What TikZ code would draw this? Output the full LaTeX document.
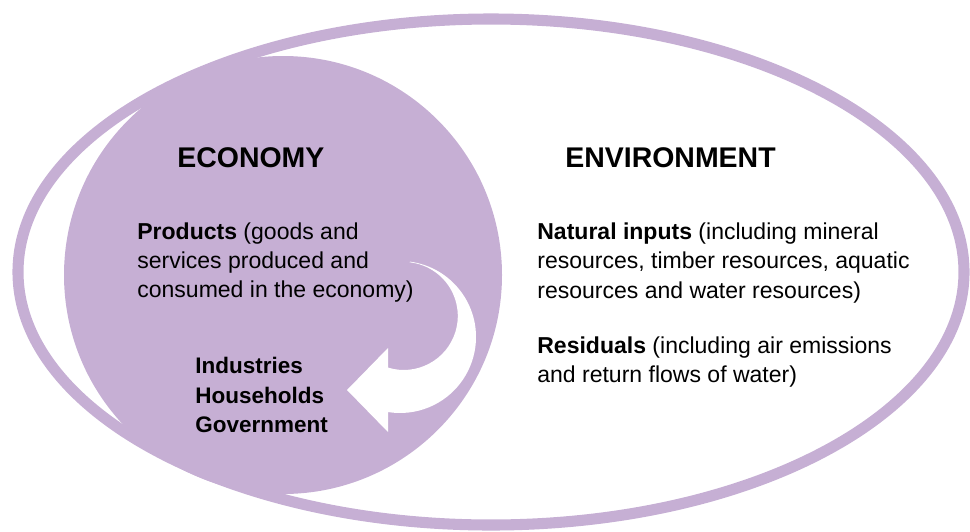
\documentclass[tikz,border=0pt]{standalone}
\usepackage{fontspec}
\setmainfont{Liberation Sans}
\definecolor{econ}{HTML}{C6AFD4}
\begin{document}
\begin{tikzpicture}[x=0.02cm,y=-0.02cm,
  body/.style={anchor=base west, inner sep=0pt, text=black, font=\fontsize{13.1}{17}\selectfont},
  head/.style={anchor=base west, inner sep=0pt, text=black, font=\fontsize{16.2}{20}\selectfont\bfseries},
  actor/.style={anchor=base west, inner sep=0pt, text=black, font=\fontsize{12.8}{17}\selectfont\bfseries},
  ring/.style={draw=econ, line width=6.3pt},
  blob/.style={fill=econ},
  flow/.style={fill=white}]
\useasboundingbox (0,0) rectangle (970,531);
% environment ring
\draw[ring] (491,272) ellipse [x radius=473, y radius=253];
% economy disc
\fill[blob] (283,275) circle [radius=219];
% circular flow arrow
\fill[flow] (400,337) ++(-82.5:76) arc[start angle=-82.5, end angle=99, radius=76]
  -- (388,432) -- (347,390) -- (388,348) -- (388,367.6)
  arc[start angle=107, end angle=-83.7, radius=54] -- cycle;
% texts
\node[head] (econ) at (177,167) {ECONOMY};
\node[head] (env) at (565,167) {ENVIRONMENT};
\node[body] (p1) at (137,239) {\textbf{Products} (goods and};
\node[body] (p2) at (137,268) {services produced and};
\node[body] (p3) at (137,297) {consumed in the economy)};
\node[actor] (ind) at (195,373) {Industries};
\node[actor] (hh) at (195,403) {Households};
\node[actor] (gov) at (195,432) {Government};
\node[body] (n1) at (537,239) {\textbf{Natural inputs} (including mineral};
\node[body] (n2) at (537,268.5) {resources, timber resources, aquatic};
\node[body] (n3) at (537,298) {resources and water resources)};
\node[body] (r1) at (537,353) {\textbf{Residuals} (including air emissions};
\node[body] (r2) at (537,382) {and return flows of water)};
\end{tikzpicture}
\end{document}
